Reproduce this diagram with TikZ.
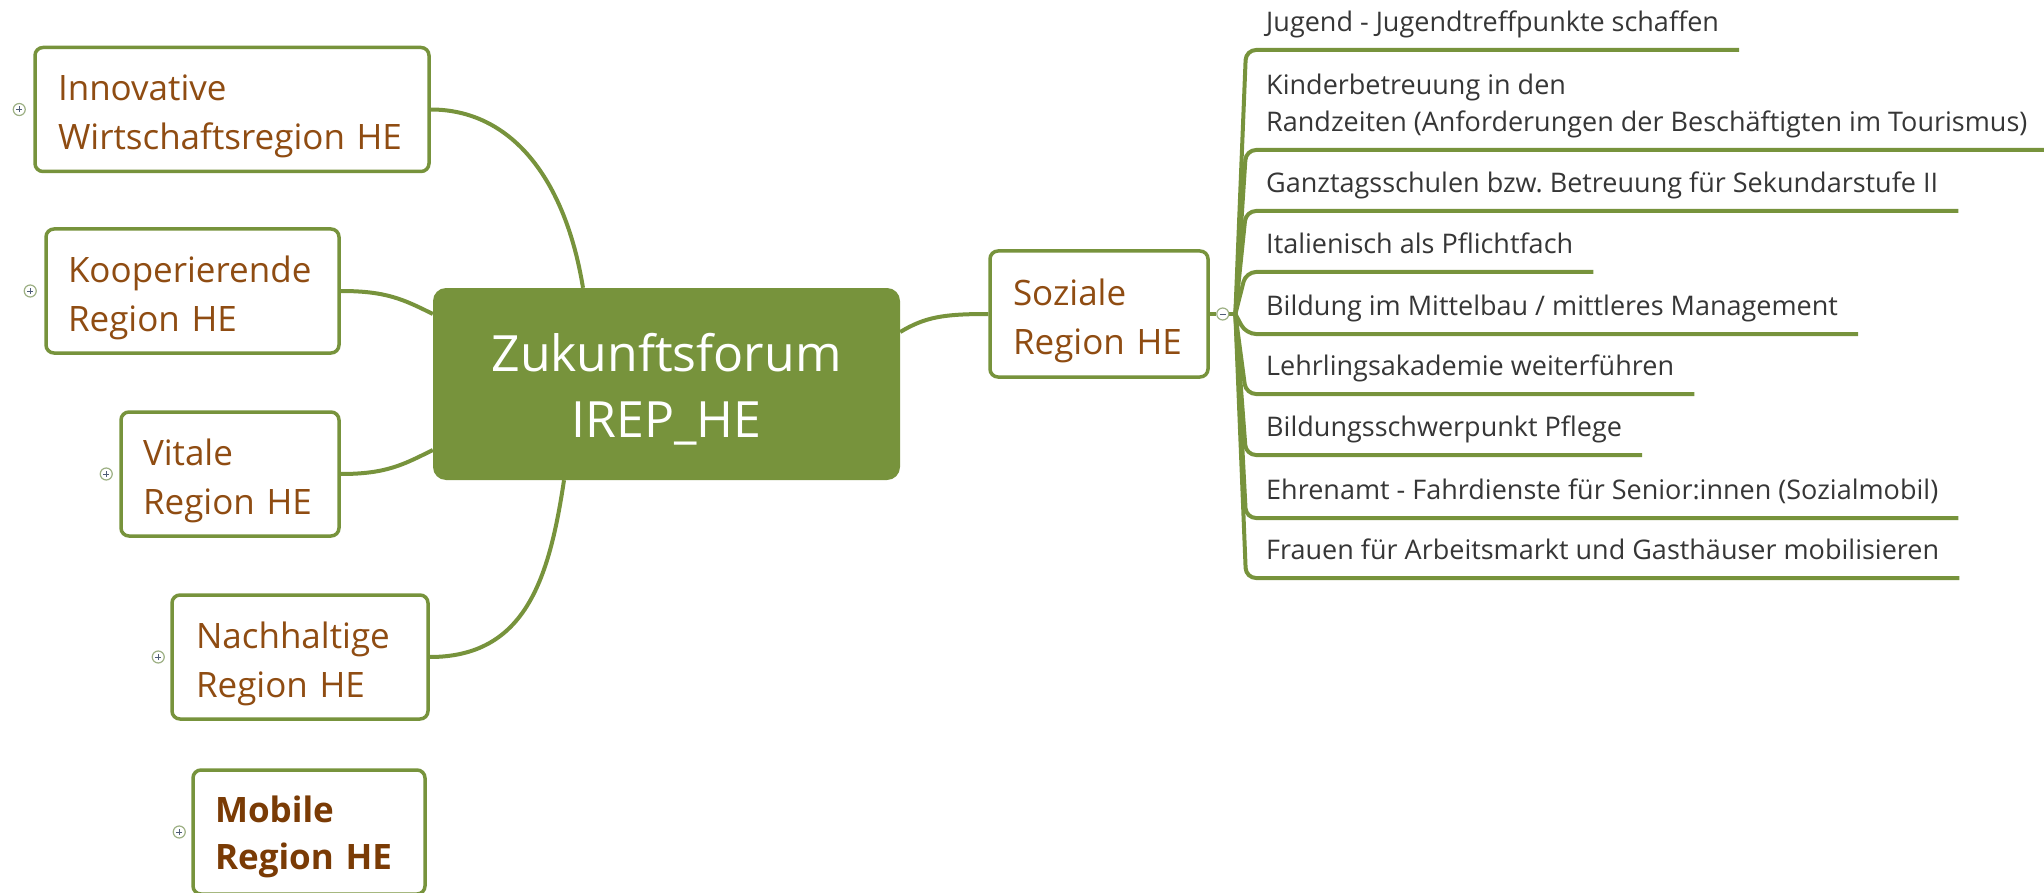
\documentclass[tikz,border=0pt]{standalone}
\usepackage{fontspec}
\setmainfont{Open Sans}
\usetikzlibrary{calc,backgrounds}
\definecolor{mmgreen}{HTML}{77933C}
\definecolor{mmbrown}{HTML}{8F4C12}
\definecolor{mmbrownd}{HTML}{7A3B05}
\definecolor{mmleaf}{HTML}{363636}
\definecolor{mmring}{HTML}{9DB084}
\definecolor{mmsign}{HTML}{4F5D78}
\frenchspacing
\begin{document}
\begin{tikzpicture}[x=1pt,y=-1pt,
  conn/.style={draw=mmgreen, line width=4pt},
  branch/.style={draw=mmgreen, line width=3.5pt, rounded corners=8pt, fill=white,
    align=left, text=mmbrown, font=\fontsize{35pt}{49pt}\selectfont,
    minimum height=124pt, inner ysep=0pt, execute at begin node={\rule{0pt}{#1}}},
  branch/.default=40pt,
  centerbox/.style={fill=mmgreen, rounded corners=13pt, minimum width=467pt,
    minimum height=192pt, align=center, text=white, inner sep=0pt,
    font=\fontsize{50pt}{66pt}\selectfont},
  leaf/.style={anchor=south west, inner xsep=20pt, inner ysep=18pt, text depth=0pt,
    align=left, text=mmleaf, font=\fontsize{27pt}{37pt}\selectfont},
  toggle/.style={circle, draw=mmring, line width=1.2pt, fill=white, minimum size=12pt, inner sep=0pt},
  plus/.style={toggle, path picture={\draw[mmsign, line width=1pt]
    (path picture bounding box.center) +(-3pt,0) -- +(3pt,0)
    (path picture bounding box.center) +(0,-3pt) -- +(0,3pt);}},
  minus/.style={toggle, path picture={\draw[mmsign, line width=1pt]
    (path picture bounding box.center) +(-3pt,0) -- +(3pt,0);}}
]
\useasboundingbox (0,0) rectangle (2044,893);

% central topic
\node[centerbox] (ctr) at (666.5,384) {\rule{0pt}{48pt}Zukunftsforum\\IREP\_HE};

% main branches
\node[branch, text width=348pt, inner xsep=23pt] (inn) at (232,109.5) {Innovative\\Wirtschaftsregion~HE};
\node[branch, text width=249pt, inner xsep=22pt] (koo) at (192.5,291) {Kooperierende\\Region~HE};
\node[branch, text width=174pt, inner xsep=22pt] (vit) at (230,474) {Vitale\\Region~HE};
\node[branch, text width=208pt, inner xsep=24pt] (nac) at (300,657) {Nachhaltige\\Region~HE};
\node[branch=36pt, text width=188pt, inner xsep=22pt, text=mmbrownd,
      font=\fontsize{35pt}{47pt}\selectfont\bfseries] (mob) at (309,832) {Mobile\\Region~HE};
\node[branch, text width=172pt, inner xsep=23pt, minimum height=126pt] (soz) at (1099,314) {Soziale\\Region~HE};

% expand / collapse toggles
\node[plus] (p1) at ([xshift=-14pt]inn.west) {};
\node[plus] (p2) at ([xshift=-14pt]koo.west) {};
\node[plus] (p3) at ([xshift=-13pt]vit.west) {};
\node[plus] (p4) at ([xshift=-12pt]nac.west) {};
\node[plus] (p5) at ([xshift=-12pt]mob.west) {};
\node[minus] (mn) at ([xshift=13pt]soz.east) {};
\coordinate (hub) at ($(mn.east)+(6pt,0)$);

% sub topics of "Soziale Region HE"
\node[leaf] (l1) at (1246,50) {Jugend - Jugendtreffpunkte schaffen};
\node[leaf] (l2) at (1246,150) {Kinderbetreuung in den\\Randzeiten (Anforderungen der Beschäftigten im Tourismus)};
\node[leaf] (l3) at (1246,211) {Ganztagsschulen bzw. Betreuung für Sekundarstufe II};
\node[leaf] (l4) at (1246,272) {Italienisch als Pflichtfach};
\node[leaf] (l5) at (1246,334) {Bildung im Mittelbau / mittleres Management};
\node[leaf] (l6) at (1246,394) {Lehrlingsakademie weiterführen};
\node[leaf] (l7) at (1246,455) {Bildungsschwerpunkt Pflege};
\node[leaf] (l8) at (1246,518) {Ehrenamt - Fahrdienste für Senior:innen (Sozialmobil)};
\node[leaf] (l9) at (1246,578) {Frauen für Arbeitsmarkt und Gasthäuser mobilisieren};

\begin{scope}[on background layer]
  \draw[conn] (inn.east) .. controls +(80,0) and +(-18,-110) .. ([xshift=-83.5pt]ctr.north);
  \draw[conn] (koo.east) .. controls +(45,0) and +(-30,-15) .. ([yshift=70pt]ctr.west);
  \draw[conn] (vit.east) .. controls +(45,0) and +(-30,15) .. ([yshift=-66pt]ctr.west);
  \draw[conn] (nac.east) .. controls +(95,0) and +(-15,100) .. ([xshift=-102.5pt]ctr.south);
  \draw[conn] ([yshift=52pt]ctr.east) .. controls +(25,-15) and +(-45,0) .. (soz.west);
  \draw[conn] (soz.east) -- (mn.west);
  \draw[conn] (mn.east) -- (hub);
  \foreach \i in {1,...,9}
    \draw[conn, rounded corners=10pt] (hub) -- (l\i.south west) -- (l\i.south east);
\end{scope}
\end{tikzpicture}
\end{document}
